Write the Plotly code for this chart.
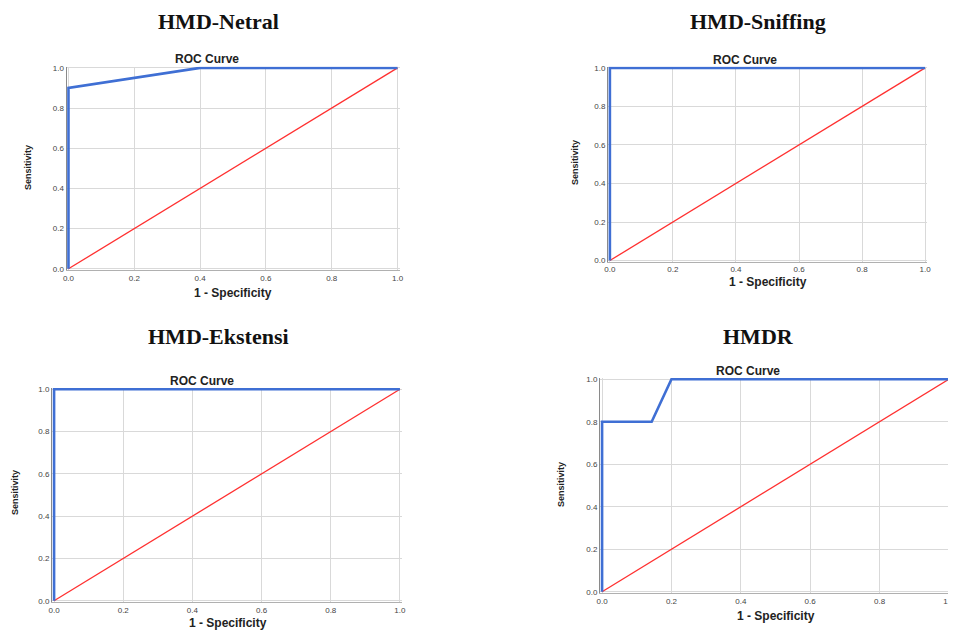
import plotly.graph_objects as go

# ---- data ----
panel_titles = ["HMD-Netral", "HMD-Sniffing", "HMD-Ekstensi", "HMDR"]
netral_fpr = [0.0, 0.0, 0.4, 1.0]
netral_tpr = [0.0, 0.9, 1.0, 1.0]
sniffing_fpr = [0.0, 0.0, 1.0]
sniffing_tpr = [0.0, 1.0, 1.0]
ekstensi_fpr = [0.0, 0.0, 1.0]
ekstensi_tpr = [0.0, 1.0, 1.0]
hmdr_fpr = [0.0, 0.0, 0.143, 0.2, 1.0]
hmdr_tpr = [0.0, 0.8, 0.8, 1.0, 1.0]
ref_line = [0.0, 1.0]
tick_vals = [0.0, 0.2, 0.4, 0.6, 0.8, 1.0]
tick_text = ["0.0", "0.2", "0.4", "0.6", "0.8", "1.0"]

curves = [(netral_fpr, netral_tpr), (sniffing_fpr, sniffing_tpr),
          (ekstensi_fpr, ekstensi_tpr), (hmdr_fpr, hmdr_tpr)]

W, H = 956, 631
OFF = 8  # page body margin: screen pixel = figure pixel + OFF
# plot areas in screen pixels: (x0, x1, ytop, ybottom)
boxes = [(66.5, 399.5, 66.7, 270), (608, 927, 66.7, 261.7),
         (52, 402, 388, 602), (600, 951, 378, 593)]
# annotation positions in screen pixels
title_pos = [(218, 16), (758, 16), (218, 336), (758, 336)]
roc_pos = [(207, 59), (745, 60), (202, 381), (748, 371)]
xt_pos = [(233, 293), (768, 282), (228, 623), (776, 616)]
yt_pos = [(28, 168), (575, 163), (15, 493), (561, 485)]


def px(x):
    return (x - OFF) / W


def py(y):
    return 1 - (y - OFF) / H


BLUE = "#3f6fd4"
RED = "#ff3030"
pad = 0.006

fig = go.Figure()
annotations = []
for i, ((fx, fy), (x0, x1, yt, yb)) in enumerate(zip(curves, boxes)):
    n = "" if i == 0 else str(i + 1)
    xa, ya = "x" + n, "y" + n
    fig.add_trace(go.Scatter(x=ref_line, y=ref_line, mode="lines",
                             line=dict(color=RED, width=1.3),
                             xaxis=xa, yaxis=ya, showlegend=False, hoverinfo="skip"))
    fig.add_trace(go.Scatter(x=fx, y=fy, mode="lines",
                             line=dict(color=BLUE, width=2.6),
                             xaxis=xa, yaxis=ya, showlegend=False))
    common = dict(tickvals=tick_vals, ticktext=tick_text, showgrid=True,
                  gridcolor="#d9d9d9", gridwidth=1, zeroline=False,
                  showline=True, ticks="", automargin=False,
                  tickfont=dict(family="Arial, Liberation Sans", size=8, color="#444"))
    fig.update_layout(**{
        "xaxis" + n: dict(domain=[px(x0), px(x1)], range=[-pad, 1 + pad],
                          anchor=ya, linecolor="#b0b0b0", **common),
        "yaxis" + n: dict(domain=[py(yb), py(yt)], range=[-pad, 1 + pad],
                          anchor=xa, linecolor="#8a8a8a", **common),
    })
    tx, ty = title_pos[i]
    if i < 2:
        t_y, t_anchor = 1.0, "top"
    else:
        t_y, t_anchor = py(ty), "middle"
    annotations.append(dict(text="<b>" + panel_titles[i] + "</b>", x=px(tx), y=t_y,
                            xref="paper", yref="paper", showarrow=False,
                            xanchor="center", yanchor=t_anchor, borderpad=0,
                            font=dict(family="Liberation Serif, Times New Roman", size=22, color="#111")))
    rx, ry = roc_pos[i]
    annotations.append(dict(text="<b>ROC Curve</b>", x=px(rx), y=py(ry),
                            xref="paper", yref="paper", showarrow=False,
                            xanchor="center", yanchor="middle",
                            font=dict(family="Arial, Liberation Sans", size=12, color="#222")))
    ax_, ay_ = xt_pos[i]
    annotations.append(dict(text="<b>1 - Specificity</b>", x=px(ax_), y=py(ay_),
                            xref="paper", yref="paper", showarrow=False,
                            xanchor="center", yanchor="middle",
                            font=dict(family="Arial, Liberation Sans", size=12, color="#222")))
    sx, sy = yt_pos[i]
    annotations.append(dict(text="<b>Sensitivity</b>", x=px(sx), y=py(sy),
                            xref="paper", yref="paper", showarrow=False, textangle=-90,
                            xanchor="center", yanchor="middle",
                            font=dict(family="Arial, Liberation Sans", size=9, color="#222")))

fig.update_layout(width=W, height=H, margin=dict(l=0, r=0, t=0, b=0, autoexpand=False),
                  paper_bgcolor="white", plot_bgcolor="white",
                  annotations=annotations, showlegend=False)
fig.write_html("out.html")
